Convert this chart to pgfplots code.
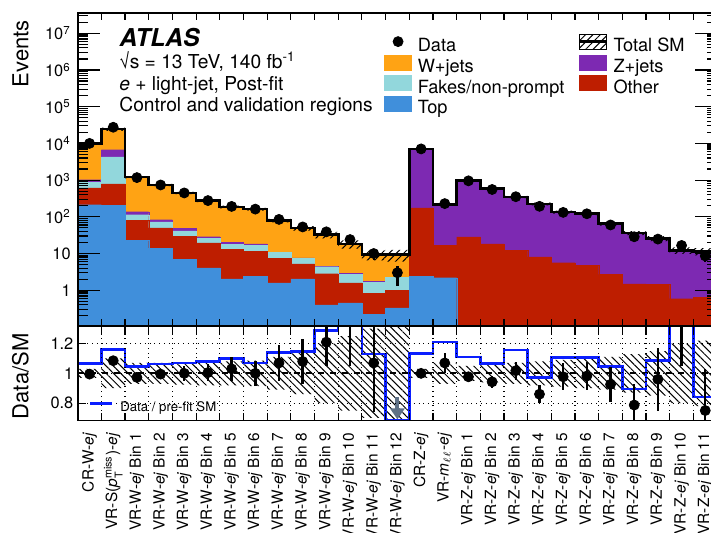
\documentclass[border=0pt]{standalone}
\usepackage{fontspec}
\setmainfont{TeX Gyre Heros}
\usepackage{amsmath}
\usepackage{pgfplots}
\pgfplotsset{compat=1.18}
\usetikzlibrary{patterns.meta,arrows.meta}

\definecolor{cwjets}{RGB}{255,163,20}
\definecolor{cfakes}{RGB}{146,215,220}
\definecolor{ctop}{RGB}{64,143,219}
\definecolor{czjets}{RGB}{125,41,178}
\definecolor{cother}{RGB}{190,30,0}
\definecolor{cprefit}{RGB}{10,30,255}
\definecolor{carrow}{RGB}{95,113,134}

\pgfplotsset{
  histbar/.style={ybar, bar width=1, bar shift=0pt, line width=0.1pt, forget plot},
}

\begin{document}
\begin{tikzpicture}
\path[use as bounding box] (0pt,0pt) rectangle (355.5pt,266pt);
\clip (0pt,0pt) rectangle (355.5pt,266pt);
\begin{pgfinterruptboundingbox}

% ---------------- main panel ----------------
\begin{axis}[
    at={(38.85pt,103pt)}, anchor=south west, scale only axis,
    width=319.7pt, height=156.35pt,
    xmin=0, xmax=27,
    ymode=log, ymin=0.106, ymax=3.5e7, log origin=infty,
    axis on top,
    axis line style={line width=0.9pt},
    every tick/.style={black, line width=0.6pt},
    major tick length=11pt, minor tick length=5pt,
    xtick={1,...,26}, xticklabels={},
    xtick style={/pgfplots/major tick length=3.5pt},
    ytick={1,10,100,1000,10000,100000,1000000,10000000},
    yticklabels={1,10,10\textsuperscript{2},10\textsuperscript{3},10\textsuperscript{4},10\textsuperscript{5},10\textsuperscript{6},10\textsuperscript{7}},
    minor ytick={0.2,0.3,0.4,0.5,0.6,0.7,0.8,0.9,2,3,4,5,6,7,8,9,20,30,40,50,60,70,80,90,200,300,400,500,600,700,800,900,2000,3000,4000,5000,6000,7000,8000,9000,20000,30000,40000,50000,60000,70000,80000,90000,200000,300000,400000,500000,600000,700000,800000,900000,2000000,3000000,4000000,5000000,6000000,7000000,8000000,9000000,20000000,30000000},
    yticklabel style={font=\fontsize{8.2}{10}\selectfont, inner sep=0pt, xshift=-3.3pt},
    ylabel={Events},
    ylabel style={at={(axis description cs:-0.0773,1)}, anchor=base east, font=\fontsize{11}{13}\selectfont},
    legend columns=2,
    legend cell align=left,
    legend style={at={(axis description cs:0.479,0.936)}, anchor=north west,
        draw=none, fill=none, inner sep=0pt, row sep=-2pt,
        font=\fontsize{9.1}{10.5}\selectfont,
        nodes={inner sep=0pt, text height=7pt, text depth=3.5pt},
        /tikz/every odd column/.append style={column sep=3pt},
        /tikz/every even column/.append style={column sep=7pt}},
]

% legend entries
\addlegendimage{legend image code/.code={\fill[black] (6.65pt,3.2pt) circle (2.5pt);}}
\addlegendentry{Data}
\addlegendimage{legend image code/.code={\path[pattern={Lines[angle=45,distance=2.6pt,line width=0.5pt]}] (0pt,-0.55pt) rectangle (13.3pt,6.95pt); \draw[line width=1.3pt] (0pt,3.2pt) -- (13.3pt,3.2pt);}}
\addlegendentry{Total SM}
\addlegendimage{legend image code/.code={\fill[cwjets] (0pt,-0.55pt) rectangle (13.3pt,6.95pt);}}
\addlegendentry{W+jets}
\addlegendimage{legend image code/.code={\fill[czjets] (0pt,-0.55pt) rectangle (13.3pt,6.95pt);}}
\addlegendentry{Z+jets}
\addlegendimage{legend image code/.code={\fill[cfakes] (0pt,-0.55pt) rectangle (13.3pt,6.95pt);}}
\addlegendentry{Fakes/non-prompt}
\addlegendimage{legend image code/.code={\fill[cother] (0pt,-0.55pt) rectangle (13.3pt,6.95pt);}}
\addlegendentry{Other}
\addlegendimage{legend image code/.code={\fill[ctop] (0pt,-0.55pt) rectangle (13.3pt,6.95pt);}}
\addlegendentry{Top}

% stacked backgrounds, drawn as cumulative sums (W+jets on top)
\addplot[histbar, fill=cwjets, draw=cwjets] coordinates {
 (0.5,9772)(1.5,24547)(2.5,1202)(3.5,741)(4.5,447)(5.5,275)(6.5,186)(7.5,162)(8.5,79.4)(9.5,49.0)(10.5,32.4)(11.5,18.2)(12.5,9.33)(13.5,9.33)};
\addplot[histbar, fill=czjets, draw=czjets] coordinates {
 (0.5,1023)(1.5,6761)(2.5,138)(3.5,83.2)(4.5,49.0)(5.5,28.8)(6.5,20.4)(7.5,18.2)(8.5,11.0)(9.5,7.59)(10.5,4.57)(11.5,2.88)(12.5,1.74)(13.5,2.24)
 (14.5,7079)(15.5,214)(16.5,977)(17.5,589)(18.5,347)(19.5,224)(20.5,135)(21.5,123)(22.5,64.6)(23.5,36.3)(24.5,25.7)(25.5,12.3)(26.5,11.5)};
\addplot[histbar, fill=cfakes, draw=cfakes] coordinates {
 (0.5,871)(1.5,4266)(2.5,114.8)(3.5,72.4)(4.5,41.7)(5.5,25.7)(6.5,17.8)(7.5,16.6)(8.5,10.7)(9.5,7.41)(10.5,4.37)(11.5,2.69)(12.5,1.66)(13.5,2.24)};
\addplot[histbar, fill=cother, draw=cother] coordinates {
 (0.5,610)(1.5,794)(2.5,79.4)(3.5,50.1)(4.5,29.5)(5.5,19.5)(6.5,12.9)(7.5,11.5)(8.5,7.41)(9.5,5.25)(10.5,2.82)(11.5,1.58)(12.5,0.83)(13.5,0.98)
 (14.5,174)(15.5,16.6)(16.5,28.2)(17.5,18.2)(18.5,12.3)(19.5,8.13)(20.5,5.62)(21.5,4.79)(22.5,2.69)(23.5,1.48)(24.5,1.43)(25.5,0.59)(26.5,0.65)};
\addplot[histbar, fill=ctop, draw=ctop] coordinates {
 (0.5,214)(1.5,204)(2.5,22.9)(3.5,14.1)(4.5,6.84)(5.5,4.07)(6.5,2.04)(7.5,2.40)(8.5,1.58)(9.5,2.04)(10.5,0.40)(11.5,0.45)(12.5,0.219)(13.5,0.33)(14.5,2.40)(15.5,2.19)};

% uncertainty band
\addplot[const plot, draw=none, forget plot, pattern={Lines[angle=45,distance=2.6pt,line width=0.5pt]}] coordinates {
 (0,10065)(1,27002)(2,1286)(3,793)(4,481)(5,297)(6,201)(7,176)(8,88.1)(9,55.9)(10,38.9)(11,22.8)(12,12.1)(13,12.6)
 (14,7291)(15,229)(16,1026)(17,624)(18,371)(19,242)(20,147)(21,135)(22,71.7)(23,41.0)(24,29.6)(25,14.8)(26,14.0)(27,14.0)
 (27,8.97)(26,9.84)(25,21.8)(24,31.6)(23,57.5)(22,111)(21,123)(20,206)(19,323)(18,554)(17,928)(16,199)(15,6867)(14,6.06)
 (13,6.53)(12,13.7)(11,25.9)(10,42.1)(9,70.7)(8,148)(7,171)(6,253)(5,413)(4,689)(3,1118)(2,22092)(1,9479)(0,9479)} -- cycle;

% total SM outline
\addplot[const plot, black, line width=1.3pt, forget plot] coordinates {
 (0,9772)(1,24547)(2,1202)(3,741)(4,447)(5,275)(6,186)(7,162)(8,79.4)(9,49.0)(10,32.4)(11,18.2)(12,9.33)(13,9.33)
 (14,7079)(15,214)(16,977)(17,589)(18,347)(19,224)(20,135)(21,123)(22,64.6)(23,36.3)(24,25.7)(25,12.3)(26,11.5)(27,11.5)};

% data
\addplot[only marks, mark=*, mark size=2.5pt, black, forget plot,
    error bars/.cd, y dir=both, y explicit, error mark=none,
    error bar style={line width=1.2pt}] coordinates {
 (0.5,10000) +- (0,100)  (1.5,27540) +- (0,166) (2.5,1170) +- (0,34) (3.5,737) +- (0,27)
 (4.5,447) +- (0,21)     (5.5,277) +- (0,17)    (6.5,192) +- (0,14)  (7.5,162) +- (0,13)
 (8.5,85) +- (0,9.2)     (9.5,53) +- (0,7.3)    (10.5,39) +- (0,6.2) (11.5,24) +- (0,4.9)
 (12.5,10) +- (0,3.2)    (13.5,3) +- (0,1.7)
 (14.5,7079) +- (0,84)   (15.5,229) +- (0,15)   (16.5,955) +- (0,31) (17.5,555) +- (0,24)
 (18.5,353) +- (0,19)    (19.5,193) +- (0,14)   (20.5,132) +- (0,11.5) (21.5,121) +- (0,11)
 (22.5,60) +- (0,7.7)    (23.5,28.6) +- (0,5.3) (24.5,24.7) +- (0,5.0) (25.5,16.6) +- (0,4.1)
 (26.5,8.6) +- (0,2.9)};
\end{axis}

% ---------------- ratio panel ----------------
\begin{axis}[
    at={(38.85pt,55.75pt)}, anchor=south west, scale only axis,
    width=319.7pt, height=47pt,
    xmin=0, xmax=27, ymin=0.683, ymax=1.315,
    axis on top,
    axis line style={line width=0.9pt},
    every tick/.style={black, line width=0.6pt},
    major tick length=4pt,
    xtick={1,...,26}, xticklabels={},
    xmajorgrids=true, ymajorgrids=true,
    major grid style={dotted, black, line width=0.6pt},
    extra x ticks={0.5,1.5,...,26.5},
    extra x tick style={major tick length=0pt, grid=none},
    extra x tick labels={CR-W-\textit{ej},VR-S($\textit{p}_{\text{T}}^{\text{miss}}$)-\textit{ej},VR-W-\textit{ej} Bin 1,VR-W-\textit{ej} Bin 2,VR-W-\textit{ej} Bin 3,VR-W-\textit{ej} Bin 4,VR-W-\textit{ej} Bin 5,VR-W-\textit{ej} Bin 6,VR-W-\textit{ej} Bin 7,VR-W-\textit{ej} Bin 8,VR-W-\textit{ej} Bin 9,VR-W-\textit{ej} Bin 10,VR-W-\textit{ej} Bin 11,VR-W-\textit{ej} Bin 12,CR-Z-\textit{ej},VR-\textit{m}$_{\ell\ell}$-\textit{ej},VR-Z-\textit{ej} Bin 1,VR-Z-\textit{ej} Bin 2,VR-Z-\textit{ej} Bin 3,VR-Z-\textit{ej} Bin 4,VR-Z-\textit{ej} Bin 5,VR-Z-\textit{ej} Bin 6,VR-Z-\textit{ej} Bin 7,VR-Z-\textit{ej} Bin 8,VR-Z-\textit{ej} Bin 9,VR-Z-\textit{ej} Bin 10,VR-Z-\textit{ej} Bin 11},
    xticklabel style={rotate=90, anchor=east, inner sep=0pt, font=\fontsize{7.7}{9}\selectfont},
    xticklabel shift=6pt,
    ytick={0.8,1,1.2}, yticklabels={0.8,1,1.2},
    yticklabel style={font=\fontsize{8.2}{10}\selectfont, inner sep=0pt, xshift=-2pt},
    ylabel={Data/SM},
    ylabel style={at={(axis description cs:-0.0773,1)}, anchor=base east, font=\fontsize{11}{13}\selectfont},
    legend style={at={(axis description cs:0.0166,0.133)}, anchor=west,
        draw=none, fill=none, inner sep=0pt,
        font=\fontsize{6.6}{8}\selectfont,
        nodes={inner sep=0pt},
        /tikz/every odd column/.append style={column sep=3.5pt}},
]
\addlegendimage{legend image code/.code={\draw[cprefit, line width=1.3pt] (0pt,2.3pt) -- (11pt,2.3pt);}}
\addlegendentry{Data / pre-fit SM}

\addplot[const plot, draw=none, forget plot, pattern={Lines[angle=-45,distance=2.6pt,line width=0.5pt]}] coordinates {
 (0,1.03)(1,1.1)(2,1.07)(3,1.07)(4,1.075)(5,1.08)(6,1.08)(7,1.085)(8,1.11)(9,1.14)(10,1.2)(11,1.25)(12,1.3)(13,1.35)
 (14,1.03)(15,1.07)(16,1.05)(17,1.06)(18,1.07)(19,1.08)(20,1.09)(21,1.1)(22,1.11)(23,1.13)(24,1.15)(25,1.2)(26,1.22)(27,1.22)
 (27,0.78)(26,0.8)(25,0.85)(24,0.87)(23,0.89)(22,0.9)(21,0.91)(20,0.92)(19,0.93)(18,0.94)(17,0.95)(16,0.93)(15,0.97)(14,0.65)
 (13,0.7)(12,0.75)(11,0.8)(10,0.86)(9,0.89)(8,0.915)(7,0.92)(6,0.92)(5,0.925)(4,0.93)(3,0.93)(2,0.9)(1,0.97)(0,0.97)} -- cycle;

\addplot[black, dashed, line width=0.9pt, forget plot] coordinates {(0,1) (27,1)};

\addplot[const plot, cprefit, line width=1.3pt, forget plot] coordinates {
 (0,1.067)(1,1.16)(2,1.045)(3,1.063)(4,1.07)(5,1.078)(6,1.10)(7,1.07)(8,1.14)(9,1.145)(10,1.29)(11,1.6)(12,1.13)(13,0.686)
 (14,1.135)(15,1.21)(16,1.11)(17,1.067)(18,1.157)(19,0.973)(20,1.108)(21,1.108)(22,1.045)(23,0.894)(24,1.085)(25,1.6)(26,0.84)(27,0.84)};

\addplot[only marks, mark=*, mark size=2.5pt, black, forget plot,
    error bars/.cd, y dir=both, y explicit, error mark=none,
    error bar style={line width=1.2pt}] coordinates {
 (0.5,0.995) +- (0,0.01) (1.5,1.085) +- (0,0.01) (2.5,0.973) +- (0,0.01) (3.5,0.995) +- (0,0.015)
 (4.5,1.0) +- (0,0.05)   (5.5,1.005) +- (0,0.055) (6.5,1.03) +- (0,0.08) (7.5,1.0) +- (0,0.085)
 (8.5,1.07) +- (0,0.12)  (9.5,1.08) +- (0,0.15)  (10.5,1.21) +- (0,0.16) (11.5,1.33) +- (0,0.28)
 (12.5,1.07) +- (0,0.33)
 (14.5,1.0) +- (0,0.01)  (15.5,1.07) +- (0,0.07) (16.5,0.977) +- (0,0.02) (17.5,0.943) +- (0,0.04)
 (18.5,1.018) +- (0,0.06) (19.5,0.86) +- (0,0.06) (20.5,0.977) +- (0,0.09) (21.5,0.982) +- (0,0.095)
 (22.5,0.926) +- (0,0.12) (23.5,0.787) +- (0,0.14) (24.5,0.96) +- (0,0.21) (25.5,1.35) +- (0,0.3)
 (26.5,0.75) +- (0,0.28)};

% data point below the range
\addplot[carrow, line width=2pt, forget plot,
    quiver={u=0, v=-0.15, every arrow/.append style={-{Triangle[width=7pt,length=5.5pt]}}}] coordinates {(13.5,0.84)};
\end{axis}

% ---------------- labels ----------------
\node[anchor=base west, inner sep=0pt, font=\fontsize{12.3}{14}\selectfont\bfseries\itshape] at (59.65pt,242.65pt) {ATLAS};
\node[anchor=base west, inner sep=0pt, font=\fontsize{9.6}{11}\selectfont] at (59.5pt,231.8pt) {√s = 13 TeV, 140 fb\textsuperscript{-1}};
\node[anchor=base west, inner sep=0pt, font=\fontsize{9.6}{11}\selectfont] at (59.5pt,221pt) {\textit{e} + light-jet, Post-fit};
\node[anchor=base west, inner sep=0pt, font=\fontsize{9.6}{11}\selectfont] at (59.5pt,210.5pt) {Control and validation regions};

\end{pgfinterruptboundingbox}
\end{tikzpicture}
\end{document}
